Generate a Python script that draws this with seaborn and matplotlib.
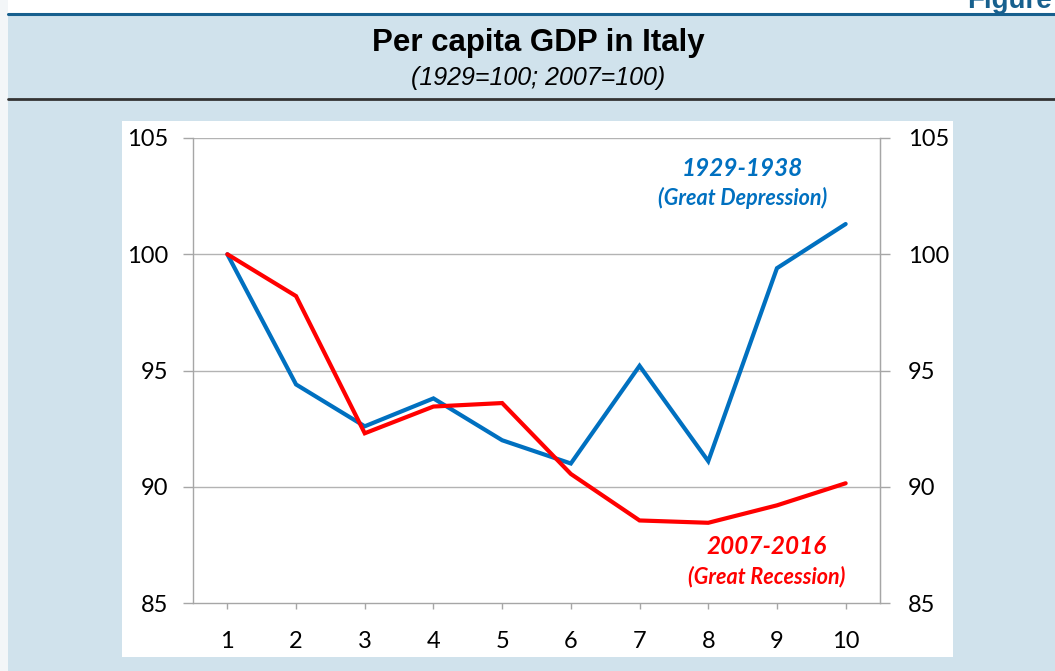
import matplotlib
matplotlib.use("Agg")
import matplotlib.pyplot as plt
from matplotlib.patches import Rectangle
import seaborn as sns
import pandas as pd

# ---- data ----
periods = [1, 2, 3, 4, 5, 6, 7, 8, 9, 10]
great_depression = [100.0, 94.4, 92.6, 93.8, 92.0, 91.0, 95.2, 91.1, 99.4, 101.3]
great_recession = [100.0, 98.2, 92.3, 93.45, 93.6, 90.55, 88.55, 88.45, 89.2, 90.15]
y_ticks = [85, 90, 95, 100, 105]
title = "Per capita GDP in Italy"
subtitle = "(1929=100; 2007=100)"
series_names = ["1929-1938", "2007-2016"]

df = pd.DataFrame({
    "period": periods * 2,
    "value": great_depression + great_recession,
    "series": [series_names[0]] * len(periods) + [series_names[1]] * len(periods),
})

sns.set_style("white")
plt.rcParams["font.family"] = ["Lato", "DejaVu Sans"]

W, H = 1055, 671
fig = plt.figure(figsize=(W / 100, H / 100), dpi=100)
fig.patch.set_facecolor("#d0e2ec")

def fx(px):
    return px / W

def fy(py):
    return 1 - py / H

# top white strip and left whitish strip
fig.patches.append(Rectangle((0, fy(13)), 1, 13 / H, transform=fig.transFigure,
                             facecolor="white", edgecolor="none", zorder=-2))
fig.patches.append(Rectangle((0, 0), fx(8), 1, transform=fig.transFigure,
                             facecolor="#f3f6f8", edgecolor="none", zorder=-2))
# header rules
fig.add_artist(plt.Line2D([fx(8), 1], [fy(14), fy(14)], color="#17608e", lw=2.2,
                          transform=fig.transFigure, zorder=-1))
fig.add_artist(plt.Line2D([fx(8), 1], [fy(99), fy(99)], color="#333333", lw=2.0,
                          transform=fig.transFigure, zorder=-1))
# white chart box
fig.patches.append(Rectangle((fx(122), fy(657)), fx(953 - 122), (657 - 121) / H,
                             transform=fig.transFigure, facecolor="white",
                             edgecolor="none", zorder=-2))

fig.text(fx(1052), fy(8), "Figure", ha="right", va="baseline", fontsize=20,
         fontweight="bold", color="#17608e", family=["Liberation Sans", "DejaVu Sans"])
fig.text(fx(538), fy(43), title, ha="center", va="center", fontsize=22.5,
         fontweight="bold", color="black", family=["Liberation Sans", "DejaVu Sans"])
fig.text(fx(538), fy(78), subtitle, ha="center", va="center", fontsize=18,
         style="italic", color="black", family=["Liberation Sans", "DejaVu Sans"])

ax = fig.add_axes([fx(193), fy(603), fx(880 - 193), (603 - 138) / H])
ax.set_facecolor("white")

sns.lineplot(data=df, x="period", y="value", hue="series",
             palette={series_names[0]: "#0070c0", series_names[1]: "#ff0000"},
             linewidth=3.0, legend=False, ax=ax, sort=False)
for ln in ax.lines:
    ln.set_solid_joinstyle("miter")

ax.set_xlim(0.5, 10.5)
ax.set_ylim(85, 105)
ax.set_xticks(periods)
ax.set_yticks(y_ticks)
ax.set_xlabel("")
ax.set_ylabel("")

for v in y_ticks[1:]:
    ax.axhline(v, color="#b3b3b3", lw=1.0, zorder=0)

for side in ["left", "right", "bottom"]:
    ax.spines[side].set_color("#a6a6a6")
    ax.spines[side].set_linewidth(1.0)
ax.spines["top"].set_visible(False)

ax.tick_params(axis="y", direction="out", length=7, width=1, color="#a6a6a6",
               pad=11, labelsize=17, labelcolor="black", left=True)
ax.tick_params(axis="x", direction="out", length=4, width=1, color="#a6a6a6",
               pad=16, labelsize=17, labelcolor="black", bottom=True)

ax2 = ax.twinx()
ax2.set_ylim(ax.get_ylim())
ax2.set_yticks(y_ticks)
ax2.tick_params(axis="y", direction="out", length=7, width=1, color="#a6a6a6",
                pad=13, labelsize=17, labelcolor="black", right=True)
for side in ["left", "top", "bottom"]:
    ax2.spines[side].set_visible(False)
ax2.spines["right"].set_color("#a6a6a6")
ax2.grid(False)

ann_font = ["Lato", "DejaVu Sans"]
ax.text(8.5, 103.7, "1929-1938", ha="center", va="center", fontsize=17.5,
        fontweight="bold", style="italic", color="#0070c0", family=ann_font)
ax.text(8.5, 102.4, "(Great Depression)", ha="center", va="center", fontsize=15.5,
        fontweight="bold", style="italic", color="#0070c0", family=ann_font)
ax.text(8.85, 87.45, "2007-2016", ha="center", va="center", fontsize=17.5,
        fontweight="bold", style="italic", color="#ff0000", family=ann_font)
ax.text(8.85, 86.15, "(Great Recession)", ha="center", va="center", fontsize=15.5,
        fontweight="bold", style="italic", color="#ff0000", family=ann_font)

fig.savefig("out.png", dpi=100, facecolor=fig.get_facecolor())
